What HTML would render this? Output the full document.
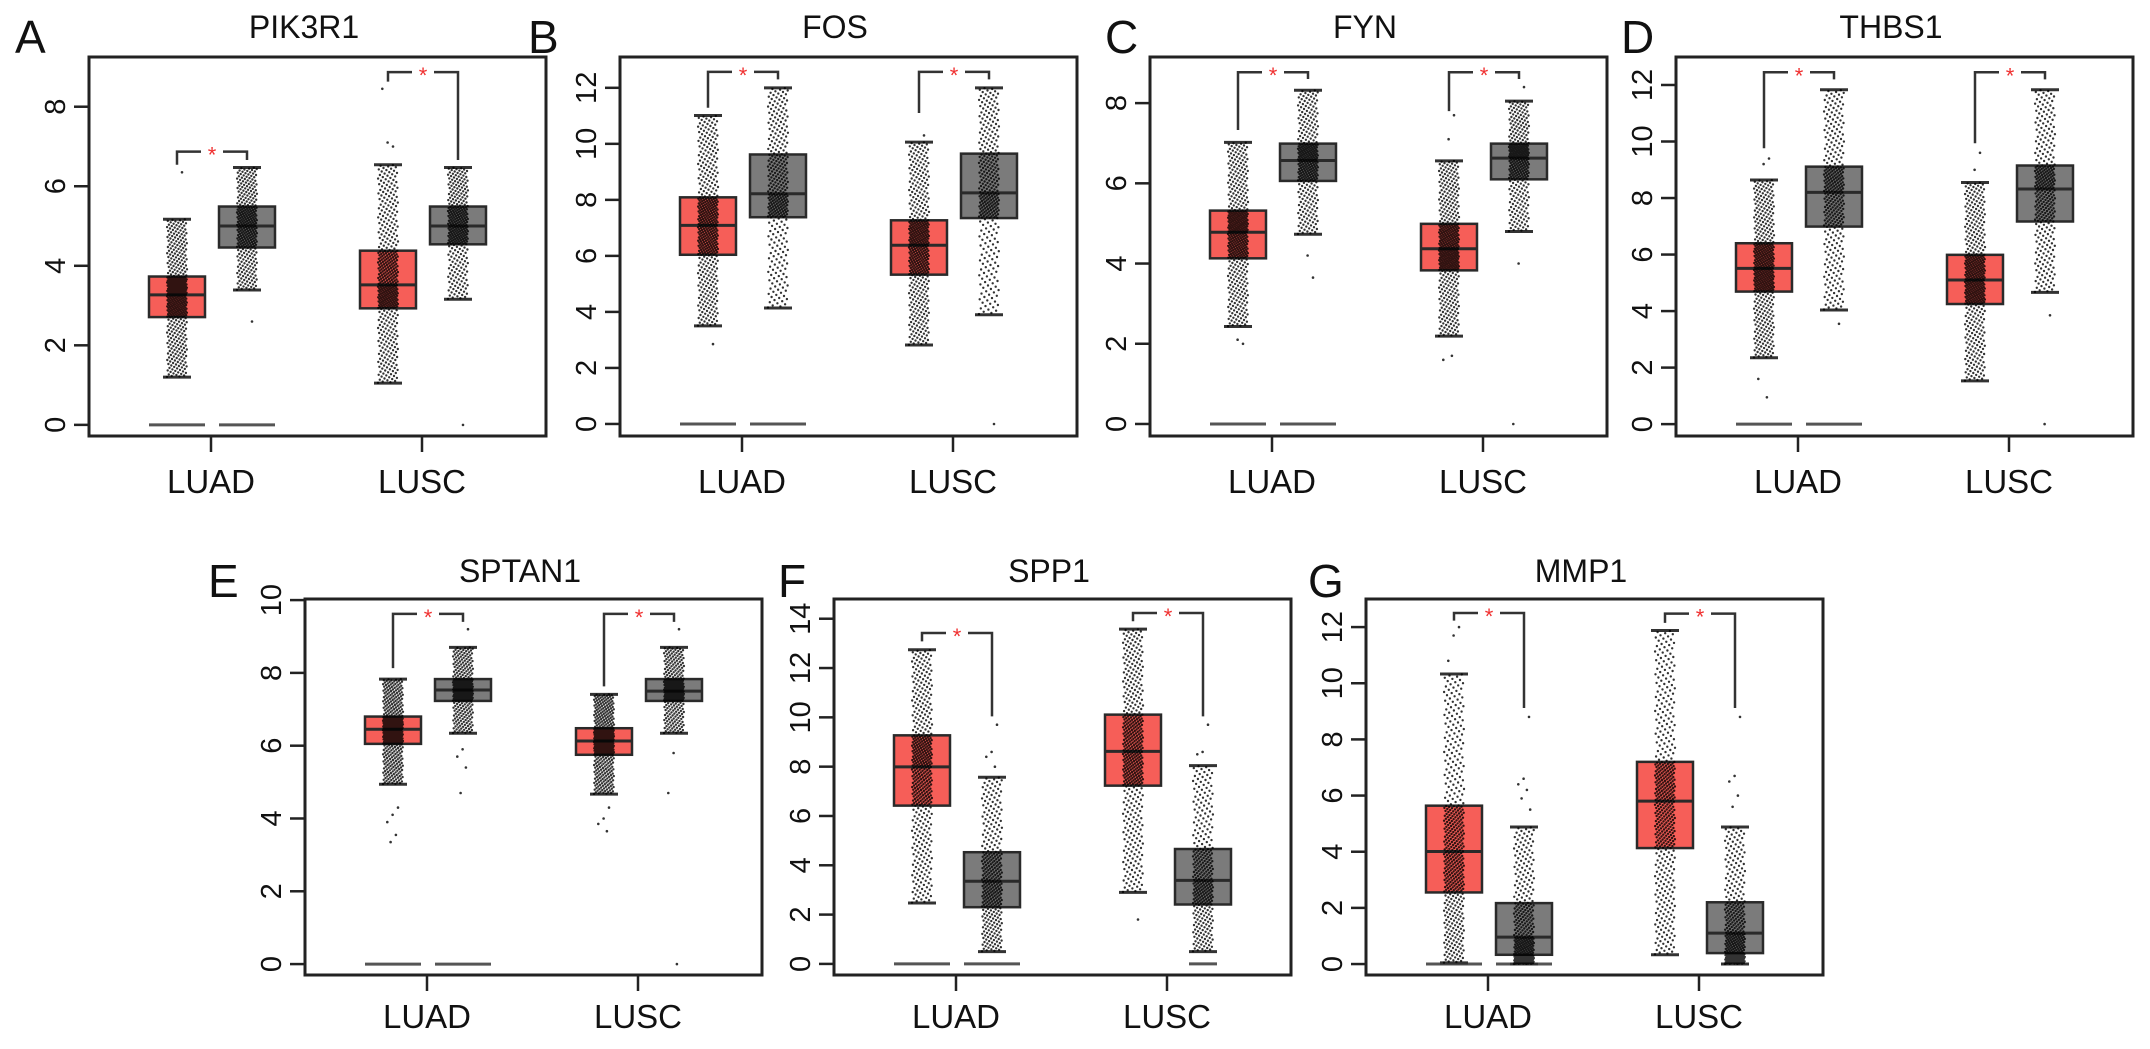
<!DOCTYPE html>
<html><head><meta charset="utf-8"><style>
html,body{margin:0;padding:0;background:#fff;}
svg{display:block;font-family:"Liberation Sans",Arial,sans-serif;}
</style></head><body>
<svg id="fig" width="2150" height="1049" viewBox="0 0 2150 1049" xmlns="http://www.w3.org/2000/svg"></svg>
<script>
// ---- data ----
const panelGenes = ["PIK3R1","FOS","FYN","THBS1","SPTAN1","SPP1","MMP1"];
const panelLetters = ["A","B","C","D","E","F","G"];
const categories = ["LUAD","LUSC"];
const yTickMax = [8,12,8,12,10,14,12];
const yTop = [9.25,13.1,9.15,12.99,10.03,14.8,13.0];
const yBottom = [-0.28,-0.43,-0.3,-0.42,-0.3,-0.45,-0.39];
// box order per panel: LUAD tumor, LUAD normal, LUSC tumor, LUSC normal
const whiskerLow = [[1.2,3.39,1.05,3.16],[3.5,4.14,2.82,3.9],[2.43,4.73,2.19,4.8],[2.35,4.04,1.53,4.66],[4.94,6.34,4.67,6.34],[2.47,0.5,2.9,0.5],[0.04,0,0.33,0]];
const q1 = [[2.71,4.46,2.93,4.54],[6.04,7.38,5.33,7.35],[4.13,6.06,3.83,6.1],[4.69,6.99,4.25,7.17],[6.05,7.23,5.75,7.23],[6.42,2.30,7.23,2.41],[2.55,0.33,4.13,0.39]];
const median = [[3.27,5.0,3.52,5.0],[7.09,8.22,6.38,8.25],[4.78,6.57,4.37,6.63],[5.51,8.2,5.1,8.32],[6.45,7.53,6.13,7.5],[7.99,3.35,8.62,3.39],[4.01,0.96,5.8,1.1]];
const q3 = [[3.73,5.49,4.38,5.49],[8.09,9.62,7.27,9.65],[5.32,6.99,4.99,6.99],[6.40,9.11,5.99,9.15],[6.8,7.83,6.48,7.83],[9.27,4.53,10.11,4.66],[5.64,2.17,7.2,2.2]];
const whiskerHigh = [[5.17,6.47,6.54,6.47],[11.01,12.0,10.06,12.0],[7.02,8.32,6.56,8.05],[8.64,11.83,8.55,11.83],[7.83,8.7,7.41,8.7],[12.74,7.57,13.58,8.04],[10.33,4.88,11.88,4.88]];
const outliers = [
 [[6.35],[2.6],[7.0,7.1,8.45],[0]],
 [[2.85],[],[10.3],[0]],
 [[2.0,2.1],[3.65,4.2],[7.7,7.1,1.6,1.7],[8.4,4.0,0]],
 [[9.4,9.2,1.6,0.95],[3.55],[9.6,9.0],[3.85,0]],
 [[4.3,4.1,3.9,3.55,3.35],[9.2,5.9,5.7,5.4,4.7],[4.3,4.0,3.85,3.65],[9.2,5.8,4.7,0]],
 [[],[9.7,8.6,8.4,8.0],[1.8],[9.7,8.6,8.5]],
 [[12.0,11.7,10.8],[8.8,6.6,6.4,6.2,5.9,5.5],[],[8.8,6.7,6.5,6.0,5.6]]
];
const zeroLine = [[1,1,0,0],[1,1,0,0],[1,1,0,0],[1,1,0,0],[1,1,0,0],[1,1,0,0.5],[1,1,0,0.5]];
const sampleCounts = [483,347,486,338];
const bracketLevel = [[6.87,8.87],[12.57,12.57],[8.77,8.77],[12.45,12.45],[9.62,9.62],[13.42,14.23],[12.5,12.48]];
const bracketLeftEnd = [[6.54,8.63],[11.29,11.1],[7.33,7.8],[9.76,9.94],[8.13,7.63],[13.08,13.9],[12.23,12.15]];
const bracketRightEnd = [[6.66,6.66],[12.3,12.3],[8.6,8.6],[12.2,12.2],[9.4,9.4],[10.04,10.04],[9.12,9.12]];

// ---- layout ----
const frameLeft = [89,620,1150,1676,305,834,1366];
const FW = 457;
const rowTop = [57,57,57,57,599,599,599];
const rowBottom = [436,436,436,436,975,975,975];
const letterX = [15,528,1105,1621,208,778,1308];
const NS = "http://www.w3.org/2000/svg";
const svg = document.getElementById('fig');
function mk(tag, attrs, parent){const e=document.createElementNS(NS,tag);for(const k in attrs)e.setAttribute(k,attrs[k]);(parent||svg).appendChild(e);return e;}

const fillCols = ["#f65e58","#7b7b7b","#f65e58","#7b7b7b"];
const boxOffset = [-34,36,-34,36];
const BW = 56;

function valueAt(p, st){
  const ps=[0,0.25,0.5,0.75,1];
  for(let k=0;k<4;k++){ if(p<=ps[k+1]){const t=(p-ps[k])/(ps[k+1]-ps[k]);return st[k]+t*(st[k+1]-st[k]);} }
  return st[4];
}

for(let pi=0; pi<7; pi++){
  const g = mk('g',{});
  
  
  const L=frameLeft[pi], T=rowTop[pi], B=rowBottom[pi];
  const y = v => T + (yTop[pi]-v)/(yTop[pi]-yBottom[pi])*(B-T);
  const row2 = pi>=4;
  const lt = mk('text',{x:letterX[pi], y: row2?597:53, 'font-size':46, fill:'#111'}, g);
  lt.textContent = panelLetters[pi];
  
  
  const tt = mk('text',{x:L+215, y: row2?582:38, 'font-size':32, 'text-anchor':'middle', fill:'#111'}, g);
  tt.textContent = panelGenes[pi];
  
  
  for(let v=0; v<=yTickMax[pi]; v+=2){
    const yy=y(v);
    const tk = mk('line',{x1:L-15,x2:L,y1:yy,y2:yy,stroke:'#222','stroke-width':2.5}, g);
    
    
    const tl = mk('text',{x:0,y:0,'font-size':29,'text-anchor':'middle',fill:'#111',transform:`translate(${L-24},${yy}) rotate(-90)`}, g);
    tl.textContent = v;
    
    
  }
  const catX = [L+122, L+333];
  categories.forEach((c,ci)=>{
    const xt = mk('line',{x1:catX[ci],x2:catX[ci],y1:B,y2:B+16,stroke:'#222','stroke-width':2.5}, g);
    
    
    const xl = mk('text',{x:catX[ci], y: row2?1028:493,'font-size':33,'text-anchor':'middle',fill:'#111'}, g);
    xl.textContent = c;
    
    
  });
  for(let bi=0; bi<4; bi++){
    const cx = catX[bi>>1] + boxOffset[bi];
    const bg = mk('g',{}, g);
    
    
    if(zeroLine[pi][bi]>0){
      const w = BW*zeroLine[pi][bi];
      mk('line',{x1:cx-w/2,x2:cx+w/2,y1:y(0),y2:y(0),stroke:'#555','stroke-width':3}, bg);
    }
    mk('rect',{x:cx-BW/2, y:y(q3[pi][bi]), width:BW, height:y(q1[pi][bi])-y(q3[pi][bi]), fill:fillCols[bi], stroke:'#2a2a2a','stroke-width':2.5}, bg);
    mk('line',{x1:cx-BW/2,x2:cx+BW/2,y1:y(median[pi][bi]),y2:y(median[pi][bi]),stroke:'#2a2a2a','stroke-width':3}, bg);
    mk('line',{x1:cx-14,x2:cx+14,y1:y(whiskerHigh[pi][bi]),y2:y(whiskerHigh[pi][bi]),stroke:'#333','stroke-width':3}, bg);
    mk('line',{x1:cx-14,x2:cx+14,y1:y(whiskerLow[pi][bi]),y2:y(whiskerLow[pi][bi]),stroke:'#333','stroke-width':3}, bg);
    const st=[whiskerLow[pi][bi],q1[pi][bi],median[pi][bi],q3[pi][bi],whiskerHigh[pi][bi]];
    const n = sampleCounts[bi];
    let d='';
    for(let i=0;i<n;i++){
      const v=valueAt((i+0.5)/n, st);
      const dx=(((i*0.6180339887)%1)-0.5)*20;
      const px=cx+dx, py=y(v);
      d+=`M${(px-1.2).toFixed(1)} ${py.toFixed(1)}a1.2 1.2 0 1 0 2.4 0a1.2 1.2 0 1 0 -2.4 0`;
    }
    outliers[pi][bi].forEach((v,k)=>{
      const px=cx+((((k+3)*0.6180339887)%1)-0.5)*14, py=y(v);
      d+=`M${(px-1.3).toFixed(1)} ${py.toFixed(1)}a1.3 1.3 0 1 0 2.6 0a1.3 1.3 0 1 0 -2.6 0`;
    });
    const pts = mk('path',{d:d, fill:'#000','fill-opacity':0.8}, bg);
    
    
  }
  for(let ci=0; ci<2; ci++){
    const xl = catX[ci]+boxOffset[0], xr = catX[ci]+boxOffset[1];
    const by = y(bracketLevel[pi][ci]);
    const mid=(xl+xr)/2;
    const bk = mk('path',{d:`M${xl} ${y(bracketLeftEnd[pi][ci])}V${by}H${mid-11}M${mid+11} ${by}H${xr}V${y(bracketRightEnd[pi][ci])}`, fill:'none', stroke:'#333','stroke-width':2.5}, g);
    
    
    const s = mk('text',{x:mid, y:by+11, 'font-size':22,'text-anchor':'middle', fill:'#f03030'}, g);
    s.textContent='*';
    
    
  }
  const fr = mk('rect',{x:L,y:T,width:FW,height:B-T,fill:'none',stroke:'#222','stroke-width':3}, g);
  
  
}
</script>
</body></html>
